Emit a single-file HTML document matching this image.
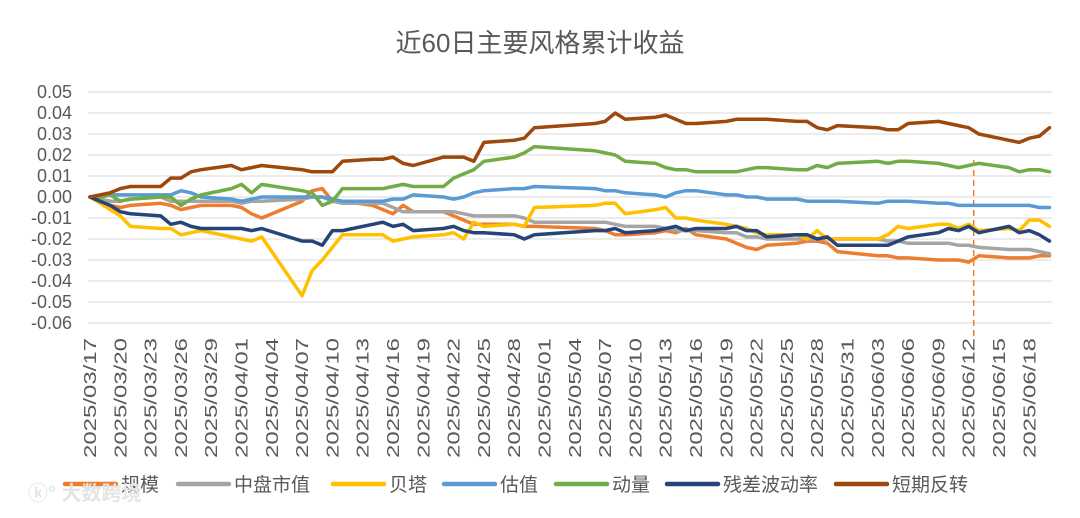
<!DOCTYPE html>
<html><head><meta charset="utf-8"><style>
html,body{margin:0;padding:0;background:#fff;}
svg{display:block;font-family:"Liberation Sans","Noto Sans CJK SC",sans-serif;}
</style></head><body>
<svg id="chart" width="1080" height="518" viewBox="0 0 1080 518">
<text x="540" y="52" text-anchor="middle" font-size="26" fill="#595959">近60日主要风格累计收益</text>
<g id="grid"></g><g id="ylabels"></g><g id="xlabels"></g><g id="series"></g><g id="legend"></g>
<text x="28" y="500" font-size="20" fill="#e4e4e4" font-weight="bold">ⓚ° 大数跨境</text>
</svg>
<script>
const dates=["03/17","03/18","03/19","03/20","03/21","03/24","03/25","03/26","03/27","03/28","03/31",
"04/01","04/02","04/03","04/07","04/08","04/09","04/10","04/11","04/14","04/15","04/16","04/17","04/18","04/21","04/22","04/23","04/24","04/25","04/28","04/29","04/30",
"05/06","05/07","05/08","05/09","05/12","05/13","05/14","05/15","05/16","05/19","05/20","05/21","05/22","05/23","05/26","05/27","05/28","05/29","05/30",
"06/03","06/04","06/05","06/06","06/09","06/10","06/11","06/12","06/13","06/16","06/17","06/18","06/19","06/20"];
const scaleVals=[0,-.002,-.004,-.005,-.004,-.003,-.004,-.006,-.005,-.004,-.004,-.005,-.008,-.010,-.002,.003,.004,-.002,-.002,-.004,-.006,-.008,-.004,-.007,-.007,-.009,-.011,-.013,-.013,-.013,-.014,-.014,-.015,-.016,-.018,-.018,-.017,-.016,-.017,-.015,-.018,-.020,-.022,-.024,-.025,-.023,-.022,-.021,-.021,-.022,-.026,-.028,-.028,-.029,-.029,-.030,-.030,-.030,-.031,-.028,-.029,-.029,-.029,-.028,-.028];
const midcapVals=[0,-.001,-.002,-.002,-.001,0,-.002,-.002,-.002,-.002,-.002,-.003,-.002,-.002,-.001,0,0,-.002,-.003,-.003,-.003,-.005,-.007,-.007,-.007,-.007,-.008,-.009,-.009,-.009,-.010,-.012,-.012,-.012,-.013,-.014,-.014,-.015,-.016,-.016,-.016,-.017,-.017,-.019,-.019,-.020,-.020,-.020,-.020,-.020,-.020,-.020,-.021,-.021,-.022,-.022,-.022,-.023,-.023,-.024,-.025,-.025,-.025,-.026,-.027];
const betaVals=[0,-.003,-.006,-.009,-.014,-.015,-.015,-.018,-.017,-.016,-.019,-.020,-.021,-.019,-.047,-.035,-.030,-.024,-.018,-.018,-.018,-.021,-.020,-.019,-.018,-.017,-.020,-.012,-.014,-.013,-.014,-.005,-.004,-.003,-.003,-.008,-.006,-.005,-.010,-.010,-.011,-.013,-.014,-.015,-.017,-.018,-.018,-.020,-.016,-.020,-.020,-.020,-.018,-.014,-.015,-.013,-.013,-.015,-.013,-.016,-.015,-.016,-.011,-.011,-.014];
const valueVals=[0,0,.001,.001,.001,.001,.001,.003,.002,0,-.001,-.002,-.001,0,0,0,0,-.001,-.002,-.002,-.002,-.001,-.001,.001,0,-.001,0,.002,.003,.004,.004,.005,.004,.003,.003,.002,.001,0,.002,.003,.003,.001,.001,0,0,-.001,-.001,-.002,-.002,-.002,-.002,-.003,-.002,-.002,-.002,-.003,-.003,-.004,-.004,-.004,-.004,-.004,-.004,-.005,-.005];
const momentumVals=[0,0,.001,-.002,-.001,0,0,-.004,-.001,.001,.004,.006,.002,.006,.003,.002,-.004,-.002,.004,.004,.004,.005,.006,.005,.005,.009,.011,.013,.017,.019,.021,.024,.022,.021,.020,.017,.016,.014,.013,.013,.012,.012,.012,.013,.014,.014,.013,.013,.015,.014,.016,.017,.016,.017,.017,.016,.015,.014,.015,.016,.014,.012,.013,.013,.012];
const residVals=[0,-.002,-.004,-.007,-.008,-.009,-.013,-.012,-.014,-.015,-.015,-.015,-.016,-.015,-.021,-.021,-.023,-.016,-.016,-.013,-.012,-.014,-.013,-.016,-.015,-.014,-.016,-.017,-.017,-.018,-.020,-.018,-.016,-.016,-.015,-.017,-.016,-.015,-.014,-.016,-.015,-.015,-.014,-.016,-.016,-.019,-.018,-.018,-.020,-.019,-.023,-.023,-.023,-.021,-.019,-.017,-.015,-.016,-.014,-.017,-.014,-.017,-.016,-.018,-.021];
const reversalVals=[0,.001,.002,.004,.005,.005,.009,.009,.012,.013,.015,.013,.014,.015,.013,.012,.012,.012,.017,.018,.018,.019,.016,.015,.019,.019,.019,.017,.026,.027,.028,.033,.035,.036,.040,.037,.038,.039,.037,.035,.035,.036,.037,.037,.037,.037,.036,.036,.033,.032,.034,.033,.032,.032,.035,.036,.035,.034,.033,.030,.027,.026,.028,.029,.033];
const yTicks=[0.05,0.04,0.03,0.02,0.01,0,-0.01,-0.02,-0.03,-0.04,-0.05,-0.06];
const xTickLabels=["03/17","03/20","03/23","03/26","03/29","04/01","04/04","04/07","04/10","04/13","04/16","04/19","04/22","04/25","04/28","05/01","05/04","05/07","05/10","05/13","05/16","05/19","05/22","05/25","05/28","05/31","06/03","06/06","06/09","06/12","06/15","06/18"];
const seriesNames=["规模","中盘市值","贝塔","估值","动量","残差波动率","短期反转"];
const markerDate="06/12";
const colors=["#ED7D31","#A5A5A5","#FFC000","#5B9BD5","#70AD47","#264478","#9E480E"];
const allVals=[scaleVals,midcapVals,betaVals,valueVals,momentumVals,residVals,reversalVals];
const slugs=["scale","midcap","beta","value","momentum","residual-vol","reversal"];
const NS="http://www.w3.org/2000/svg";
const X0=90,PXD=10.1,Y0=197,PXV=2100;
function dayOf(md){const [m,d]=md.split("/").map(Number);const base=Date.UTC(2025,2,17);return Math.round((Date.UTC(2025,m-1,d)-base)/86400000);}
function xs(md){return X0+dayOf(md)*PXD;}
function ys(v){return Y0-v*PXV;}
function mk(tag,attrs,parent){const e=document.createElementNS(NS,tag);for(const k in attrs)e.setAttribute(k,attrs[k]);parent.appendChild(e);return e;}
const grid=document.getElementById("grid"),yl=document.getElementById("ylabels"),xl=document.getElementById("xlabels"),sg=document.getElementById("series"),lg=document.getElementById("legend");
yTicks.forEach(t=>{
  const l=mk("line",{x1:88,x2:1052,y1:ys(t),y2:ys(t),stroke:"#d9d9d9","stroke-width":1},grid);
  
  
  const tx=mk("text",{x:72,y:ys(t)+6,"text-anchor":"end","font-size":18,fill:"#595959"},yl);
  tx.textContent=t.toFixed(2);
  
  
});
xTickLabels.forEach(d=>{
  const x=xs(d)+6;
  const tx=mk("text",{x:0,y:0,transform:`translate(${x},338) rotate(-90)`,"text-anchor":"end","font-size":17.5,fill:"#595959",textLength:120,lengthAdjust:"spacingAndGlyphs"},xl);
  tx.textContent="2025/"+d;
  
  
});
const mx=xs(markerDate)+5;
const ml=mk("line",{x1:mx,x2:mx,y1:160,y2:337,stroke:"#ED7D31","stroke-width":1.5,"stroke-dasharray":"6,4"},sg);


allVals.forEach((vals,i)=>{
  const pts=vals.map((v,j)=>xs(dates[j]).toFixed(1)+","+ys(v).toFixed(1)).join(" ");
  const p=mk("polyline",{points:pts,fill:"none",stroke:colors[i],"stroke-width":3.5,"stroke-linejoin":"round","stroke-linecap":"round"},sg);
  
  
});
const lx=[65,178,333,444,556,667,836];
seriesNames.forEach((n,i)=>{
  const g=mk("g",{},lg);
  
  
  mk("line",{x1:lx[i],x2:lx[i]+51,y1:484,y2:484,stroke:colors[i],"stroke-width":4.5,"stroke-linecap":"round"},g);
  const t=mk("text",{x:lx[i]+56,y:491,"font-size":19,fill:"#595959"},g);
  t.textContent=n;
});
</script>
</body></html>
